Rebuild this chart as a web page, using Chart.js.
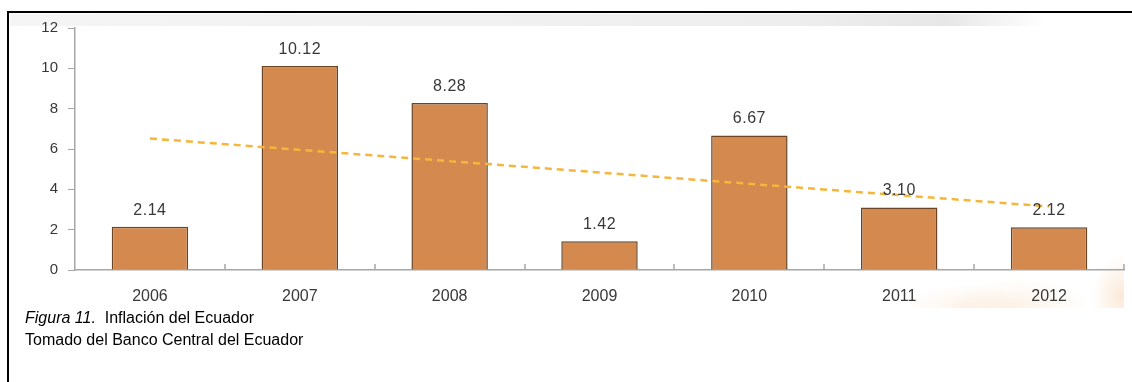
<!DOCTYPE html>
<html>
<head>
<meta charset="utf-8">
<script src="https://cdn.jsdelivr.net/npm/chart.js@4/dist/chart.umd.min.js"></script>
<style>
  body { margin: 0; background: #fff; }
  #page { position: relative; width: 1132px; height: 382px; overflow: hidden; }
  #frame {
    position: absolute; left: 7px; top: 11px; width: 1140px; height: 400px;
    border-top: 2.5px solid #000; border-left: 2.5px solid #000;
  }
  #backdrop {
    position: absolute; left: 10px; top: 14px; width: 1114px; height: 294px;
    background:
      linear-gradient(90deg, rgba(242,242,242,0.8) 0%, rgba(236,236,236,0.9) 70%, rgba(228,228,228,0.9) 84%, rgba(255,255,255,0) 93%) 0 0 / 100% 12px no-repeat,
      radial-gradient(ellipse 70px 28px at 1010px 292px, rgba(244,200,150,0.22), rgba(255,255,255,0) 100%),
      radial-gradient(ellipse 60px 26px at 955px 296px, rgba(240,185,130,0.18), rgba(255,255,255,0) 100%),
      radial-gradient(ellipse 30px 40px at 1112px 282px, rgba(240,170,100,0.25), rgba(255,255,255,0) 100%);
  }
  #chart { position: absolute; left: 0; top: 0; }
  #caption {
    position: absolute; left: 25px; top: 307px;
    font-family: "Liberation Sans", Arial, sans-serif; font-size: 16px; line-height: 22px; color: #000;
  }
</style>
</head>
<body>
<div id="page">
  <div id="backdrop"></div>
  <div id="frame"></div>
  <canvas id="chart" width="1132" height="382"></canvas>
  <div id="caption">
    <div><i>Figura 11.</i>&nbsp; Inflación del Ecuador</div>
    <div>Tomado del Banco Central del Ecuador</div>
  </div>
</div>
<script>
const years = ['2006', '2007', '2008', '2009', '2010', '2011', '2012'];
const inflation = [2.14, 10.12, 8.28, 1.42, 6.67, 3.10, 2.12];
// linear trend, only its two ends are plotted
const trend = [6.52, null, null, null, null, null, 3.15];
const yTicks = [0, 2, 4, 6, 8, 10, 12];

const axisGray = '#a6a6a6';
const textColor = '#383838';
const fontFamily = '"Liberation Sans", Arial, sans-serif';

// value labels above each bar
const barValues = {
  id: 'barValues',
  afterDatasetsDraw(chart) {
    const { ctx } = chart;
    const meta = chart.getDatasetMeta(1);
    ctx.save();
    ctx.font = '16px ' + fontFamily;
    ctx.fillStyle = textColor;
    ctx.textAlign = 'center';
    ctx.textBaseline = 'alphabetic';
    if ('letterSpacing' in ctx) ctx.letterSpacing = '0.5px';
    meta.data.forEach((bar, i) => {
      ctx.fillText(inflation[i].toFixed(2), bar.x, bar.y - 12);
    });
    ctx.restore();
  }
};

// small upward tick marks between categories
const categoryTicks = {
  id: 'categoryTicks',
  afterDraw(chart) {
    const { ctx } = chart;
    const x = chart.scales.x;
    const half = (x.getPixelForValue(1) - x.getPixelForValue(0)) / 2;
    ctx.save();
    ctx.strokeStyle = axisGray;
    ctx.lineWidth = 1.5;
    for (let i = 0; i < years.length; i++) {
      const px = Math.round(x.getPixelForValue(i) + half);
      ctx.beginPath();
      ctx.moveTo(px, x.top);
      ctx.lineTo(px, x.top - 6);
      ctx.stroke();
    }
    ctx.restore();
  }
};

new Chart(document.getElementById('chart'), {
  data: {
    labels: years,
    datasets: [
      {
        type: 'line',
        data: trend,
        spanGaps: true,
        borderColor: '#f4b63c',
        borderWidth: 2.5,
        borderDash: [7, 5],
        pointRadius: 0,
        order: 0
      },
      {
        type: 'bar',
        data: inflation,
        backgroundColor: '#d4894e',
        borderColor: '#6b4424',
        borderWidth: 1.5,
        barPercentage: 0.51,
        categoryPercentage: 1,
        order: 1
      }
    ]
  },
  options: {
    responsive: false,
    animation: false,
    devicePixelRatio: 1,
    layout: { padding: { left: 10, right: 8, top: 28, bottom: 72 } },
    plugins: { legend: { display: false }, tooltip: { enabled: false } },
    scales: {
      x: {
        offset: true,
        afterFit(scale) { scale.height = 40; },
        grid: { offset: true, drawOnChartArea: false, drawTicks: false },
        border: { color: axisGray, width: 1.5 },
        ticks: {
          color: textColor,
          padding: 17,
          font: { family: fontFamily, size: 16 }
        }
      },
      y: {
        min: 0,
        max: 12,
        afterFit(scale) { scale.width = 65; },
        afterBuildTicks(scale) { scale.ticks = yTicks.map(v => ({ value: v })); },
        grid: { drawOnChartArea: false, drawTicks: true, tickLength: 7, color: axisGray, lineWidth: 1 },
        border: { color: axisGray, width: 1.5 },
        ticks: {
          color: textColor,
          padding: 10,
          font: { family: fontFamily, size: 15 }
        }
      }
    }
  },
  plugins: [barValues, categoryTicks]
});
</script>
</body>
</html>
